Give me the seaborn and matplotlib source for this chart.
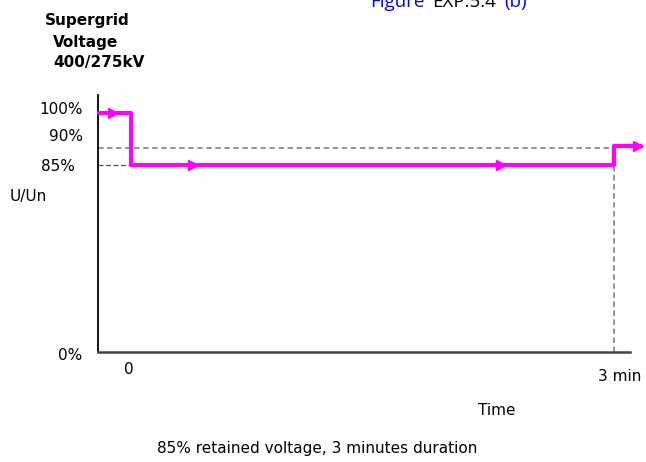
import numpy as np
import matplotlib
matplotlib.use("Agg")
import matplotlib.pyplot as plt
import matplotlib.transforms as mtransforms
import seaborn as sns

# step profile of the retained voltage (time in minutes, voltage in % of Un)
times = [-0.2, 0, 3, 3.17]
levels = [100, 85, 90.5, 90.5]
arrow_times = [-0.11, 0.385, 2.3, 3.15]

ref_levels = [100, 90, 85, 0]
ref_labels = ["100%", "90%", "85%", "0%"]
time_ticks = [0, 3]
time_labels = ["0", "3 min"]

sns.set_style("white")
plt.rcParams['font.family'] = ['DejaVu Sans']
plt.rcParams['text.color'] = 'black'
plt.rcParams['axes.labelcolor'] = 'black'
plt.rcParams['xtick.color'] = 'black'
plt.rcParams['ytick.color'] = 'black'

fig = plt.figure(figsize=(6.46, 4.62), dpi=100)
ax = fig.add_axes([98/646, 110/462, 532/646, 257/462])


# schematic axis: the band above 85% is stretched
def fwd(v):
    v = np.asarray(v, dtype=float)
    return np.where(v <= 85, v * 2.2, 187 + (v - 85) * 3.45)


def inv(p):
    p = np.asarray(p, dtype=float)
    return np.where(p <= 187, p / 2.2, 85 + (p - 187) / 3.45)


ax.set_yscale('function', functions=(fwd, inv))
ax.set_ylim(0, 105.3)
ax.set_xlim(-0.205, 3.1)

# reference dashed lines
ax.plot([-0.205, times[2]], [levels[2] - 0.5] * 2, color="#8c8c8c", lw=1.3, ls=(0, (3, 2)), zorder=1)
ax.plot([-0.205, times[1]], [levels[1]] * 2, color="#555555", lw=0.9, ls=(0, (4, 2)), zorder=1)
ax.plot([times[2]] * 2, [0, levels[2] - 0.5], color="#8c8c8c", lw=1.3, ls=(0, (3, 2)), zorder=1)

sns.lineplot(x=times, y=levels, drawstyle="steps-post", color="#ff00ff", lw=3,
             ax=ax, zorder=3, clip_on=False)
arrow_levels = [levels[np.searchsorted(times, t, side="right") - 1] for t in arrow_times]
ax.plot(arrow_times, arrow_levels, ls="none", marker=">", ms=7, color="#ff00ff",
        mec="#ff00ff", zorder=4, clip_on=False)

sns.despine(ax=ax)
ax.spines['left'].set_color("black")
ax.spines['left'].set_linewidth(1.3)
ax.spines['bottom'].set_color("#444444")
ax.spines['bottom'].set_linewidth(1.8)
ax.spines['bottom'].set_bounds(-0.205, 3.1)

ax.set_yticks(ref_levels)
ax.set_yticklabels(ref_labels)
ax.set_xticks(time_ticks)
ax.set_xticklabels(time_labels)
ax.tick_params(axis='y', length=0, pad=11, labelsize=11)
ax.tick_params(axis='x', length=0, pad=7, labelsize=11)

# nudge labels like the hand-drawn original
shifts_y = {"100%": (0, 5), "90%": (0, 13), "85%": (-8, 0), "0%": (0, -2)}
for lab in ax.get_yticklabels():
    dx, dy = shifts_y[lab.get_text()]
    lab.set_transform(lab.get_transform() + mtransforms.ScaledTranslation(dx/100, dy/100, fig.dpi_scale_trans))
shifts_x = {"0": (-2, 0), "3 min": (6, -7)}
for lab in ax.get_xticklabels():
    dx, dy = shifts_x[lab.get_text()]
    lab.set_transform(lab.get_transform() + mtransforms.ScaledTranslation(dx/100, dy/100, fig.dpi_scale_trans))

ax.set_xlabel("Time", fontsize=11)
ax.xaxis.set_label_coords(0.75, -0.2)

fig.text(10/646, 1 - 197/462, "U/Un", fontsize=11, va="center", ha="left")

# header
fig.text(87/646, 1 - 20/462, "Supergrid", fontsize=11, fontweight="bold", ha="center", va="center")
fig.text(53/646, 1 - 42/462, "Voltage", fontsize=11, fontweight="bold", ha="left", va="center")
fig.text(53/646, 1 - 63/462, "400/275kV", fontsize=11, fontweight="bold", ha="left", va="center")

# clipped document title, pieces chained one after another
renderer = fig.canvas.get_renderer()
x_px = 370
for piece, col in [("Figure", "#0000ff"), ("EXP.5.4", "black"), ("(b)", "#0000ff")]:
    t = fig.text(x_px/646, 1 - 7/462, piece, fontsize=13.5, family="Open Sans", color=col, va="baseline")
    x_px = t.get_window_extent(renderer).x1 + 8

fig.text(317/646, 14/462, "85% retained voltage, 3 minutes duration", fontsize=11, ha="center", va="center")

fig.savefig("out.png", dpi=100)
